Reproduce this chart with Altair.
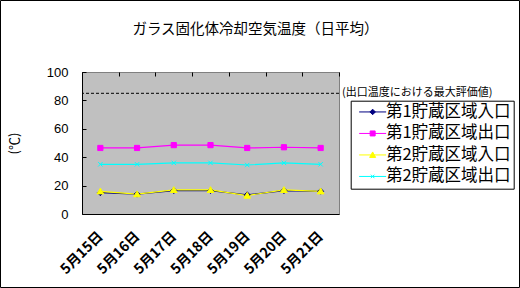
import altair as alt
import pandas as pd

# ---- data ----
dates = ["5月15日", "5月16日", "5月17日", "5月18日", "5月19日", "5月20日", "5月21日"]
series_names = ["第1貯蔵区域入口", "第1貯蔵区域出口", "第2貯蔵区域入口", "第2貯蔵区域出口"]
zone1_in = [15, 14, 16.5, 16.5, 13.5, 16.5, 16]
zone1_out = [46.5, 46.5, 48.5, 48.5, 46.5, 47, 46.5]
zone2_in = [16, 14, 17, 17, 13, 17, 16]
zone2_out = [35, 35, 36, 36, 34.5, 36, 35]
max_eval = 85
max_eval_label = "(出口温度における最大評価値)"
y_ticks = [0, 20, 40, 60, 80, 100]
title_text = "ガラス固化体冷却空気温度（日平均）"

colors = ["#000080", "#FF00FF", "#FFFF00", "#00FFFF"]
# marker shapes on the plot (unit paths)
plot_shapes = [
    "M0,-0.75L0.75,0L0,0.75L-0.75,0Z",
    "M-0.65,-0.65H0.65V0.65H-0.65Z",
    "M0,-0.8L0.85,0.65H-0.85Z",
    "M-0.55,-0.55L0.55,0.55M-0.55,0.55L0.55,-0.55",
]
# legend symbols: line + marker
legend_shapes = [
    "M-2.7,0H2.7M0,-0.55L0.55,0L0,0.55L-0.55,0Z",
    "M-2.7,0H2.7M-0.5,-0.5H0.5V0.5H-0.5Z",
    "M-2.7,0H2.7M0,-0.6L0.6,0.5H-0.6Z",
    "M-2.7,0H2.7M-0.35,-0.35L0.35,0.35M-0.35,0.35L0.35,-0.35",
]

rows = []
for name, vals in zip(series_names, [zone1_in, zone1_out, zone2_in, zone2_out]):
    for d, v in zip(dates, vals):
        rows.append({"date": d, "series": name, "value": v})
df = pd.DataFrame(rows)

CJK = "Noto Sans CJK JP"
W, H = 257, 142

x_enc = alt.X(
    "date:N", sort=dates, bandPosition=0.5,
    scale=alt.Scale(type="band", domain=dates, paddingInner=0, paddingOuter=0),
    axis=alt.Axis(
        title=None, labelAngle=-45, labelAlign="right", labelBaseline="middle",
        labelPadding=20, labelFont=CJK, labelFontSize=14, labelFontWeight="bold",
        labelColor="black", ticks=False, domainColor="black", domainWidth=1,
        grid=True, gridColor="black", gridDash=[4, 1000], gridWidth=1,
        tickBand="extent", labelOverlap=False,
    ),
)
y_scale = alt.Scale(domain=[0, 100], nice=False, zero=True)
y_axis = alt.Axis(
    title="(℃)", values=y_ticks, ticks=False, labelPadding=14,
    labelFont="Liberation Sans", labelFontSize=13, labelColor="black",
    labelOverlap=False, labelFlush=False,
    domainColor="black", domainWidth=1,
    grid=True, gridColor="black", gridDash=[4, 1000], gridWidth=1,
    titleFont=CJK, titleFontSize=13, titleFontWeight="normal",
    titlePadding=25, titleColor="black",
)
y_enc = alt.Y("value:Q", scale=y_scale, axis=y_axis)
y_ref = alt.YDatum(max_eval, type="quantitative", scale=y_scale, axis=y_axis)

base = alt.Chart(df)
one_row = "datum.series == '%s' && datum.date == '%s'" % (series_names[0], dates[0])

frame = base.mark_rect(fillOpacity=0, stroke="black", strokeWidth=1).encode(
    x=alt.value(-81.5), x2=alt.value(W + 180.5), y=alt.value(-71.5), y2=alt.value(H + 73.5)
).transform_filter(one_row)

title_mark = base.mark_text(
    align="center", baseline="middle", font=CJK, fontSize=14.5, color="black"
).encode(
    x=alt.value(W / 2 + 45), y=alt.value(-42), text=alt.datum(title_text)
).transform_filter(one_row)

ref_rule = base.mark_rule(color="black", strokeDash=[3, 2], strokeWidth=1).encode(
    y=y_ref
).transform_filter(one_row)

ref_text = base.mark_text(
    align="left", baseline="middle", dx=3, font=CJK, fontSize=11, color="black"
).encode(
    x=alt.value(W), y=y_ref, text=alt.datum(max_eval_label)
).transform_filter(one_row)

lines = base.mark_line(strokeWidth=1.2).encode(
    x=x_enc, y=y_enc,
    color=alt.Color("series:N", scale=alt.Scale(domain=series_names, range=colors), legend=None),
    order=alt.Order("date:N"),
)

points = base.mark_point(filled=True, size=64, strokeWidth=1, opacity=1).encode(
    x=x_enc, y=y_enc,
    fill=alt.Fill("series:N", scale=alt.Scale(domain=series_names, range=colors), legend=None),
    stroke=alt.Stroke("series:N", scale=alt.Scale(domain=series_names, range=colors), legend=None),
    shape=alt.Shape("series:N", scale=alt.Scale(domain=series_names, range=plot_shapes), legend=None),
)

leg = alt.Legend(
    title=None, orient="none", legendX=268.7, legendY=28.7,
    strokeColor="black", fillColor="white", padding=3,
    symbolOffset=10.7, labelOffset=5, labelFont=CJK, labelFontSize=16.5,
    labelColor="black", rowPadding=4.5, symbolSize=100, symbolStrokeWidth=1,
    labelLimit=300,
)
legend_layer = base.mark_point(filled=True, size=100, strokeWidth=1, opacity=1).encode(
    x=x_enc, y=y_enc,
    fill=alt.Fill("series:N", scale=alt.Scale(domain=series_names, range=colors), legend=leg),
    stroke=alt.Stroke("series:N", scale=alt.Scale(domain=series_names, range=colors), legend=leg),
    shape=alt.Shape("series:N", scale=alt.Scale(domain=series_names, range=legend_shapes), legend=leg),
).transform_filter("false")

chart = alt.layer(frame, title_mark, ref_rule, ref_text, lines, points, legend_layer).resolve_scale(
    color="independent", fill="independent", stroke="independent", shape="independent"
).properties(
    width=W, height=H,
    autosize=alt.AutoSizeParams(type="none"),
    padding={"left": 82, "top": 72, "right": 181, "bottom": 74},
    background="white",
).configure_view(fill="#C0C0C0", stroke="#808080", strokeWidth=1)

chart.save("out.html", embed_options={"renderer": "svg", "actions": False})
